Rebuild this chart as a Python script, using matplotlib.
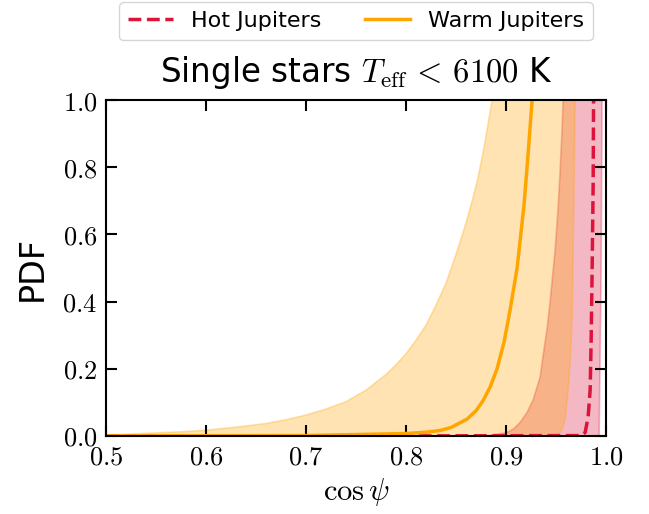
import numpy as np
import matplotlib
matplotlib.use("Agg")
import matplotlib.pyplot as plt
from matplotlib.ticker import FixedLocator

plt.rcParams["mathtext.fontset"] = "cm"
plt.rcParams["font.family"] = ["DejaVu Sans"]

# warm Jupiters: median PDF and band edges
warm_med_x = [0.50, 0.70, 0.80, 0.82, 0.834, 0.845, 0.861, 0.87, 0.877, 0.884, 0.891, 0.898,
              0.904, 0.911, 0.918, 0.922, 0.926, 0.928]
warm_med_y = [0.0, 0.001, 0.007, 0.011, 0.016, 0.025, 0.05, 0.075, 0.105, 0.145, 0.20, 0.28,
              0.375, 0.50, 0.69, 0.84, 1.0, 1.06]
warm_hi_x = [0.50, 0.52, 0.55, 0.58, 0.60, 0.63, 0.66, 0.68, 0.70, 0.72, 0.74, 0.76, 0.78,
             0.79, 0.80, 0.81, 0.82, 0.83, 0.84, 0.851, 0.86, 0.867, 0.872, 0.878, 0.882,
             0.886, 0.89]
warm_hi_y = [0.003, 0.005, 0.009, 0.013, 0.017, 0.026, 0.037, 0.048, 0.062, 0.08, 0.102,
             0.136, 0.183, 0.212, 0.245, 0.285, 0.33, 0.39, 0.455, 0.55, 0.635, 0.71, 0.77,
             0.86, 0.93, 1.0, 1.06]
warm_lo_x = [0.50, 0.90, 0.945, 0.952, 0.956, 0.959, 0.962, 0.964, 0.966, 0.967, 0.968, 0.969, 0.970]
warm_lo_y = [0.0, 0.0, 0.0, 0.003, 0.02, 0.048, 0.137, 0.22, 0.35, 0.55, 0.75, 1.0, 1.06]

# hot Jupiters
hot_med_x = [0.50, 0.83, 0.975, 0.979, 0.982, 0.984, 0.985, 0.986, 0.987, 0.9875]
hot_med_y = [0.0, 0.0, 0.001, 0.01, 0.057, 0.137, 0.286, 0.50, 0.75, 1.06]
hot_hi_x = [0.50, 0.88, 0.901, 0.908, 0.914, 0.921, 0.927, 0.934, 0.937, 0.941, 0.944,
            0.949, 0.952, 0.954, 0.956, 0.957, 0.958]
hot_hi_y = [0.0, 0.0, 0.01, 0.022, 0.04, 0.07, 0.107, 0.175, 0.24, 0.32, 0.40,
            0.554, 0.68, 0.79, 0.917, 1.0, 1.06]
hot_lo_x = [0.50, 0.993, 0.995, 0.996]
hot_lo_y = [0.0, 0.0, 0.5, 1.06]

xticks = [0.5, 0.6, 0.7, 0.8, 0.9, 1.0]
yticks = [0.0, 0.2, 0.4, 0.6, 0.8, 1.0]

hot_c = "crimson"
warm_c = "orange"

fig = plt.figure(figsize=(6.49, 5.14), dpi=100)
ax = fig.add_axes([0.163, 0.152, 0.771, 0.653])

# bands
ax.fill(np.r_[hot_hi_x, hot_lo_x[::-1]], np.r_[hot_hi_y, hot_lo_y[::-1]],
        color=hot_c, alpha=0.3, lw=1.2)
ax.fill(np.r_[warm_hi_x, warm_lo_x[::-1]], np.r_[warm_hi_y, warm_lo_y[::-1]],
        color=warm_c, alpha=0.3, lw=1.2)

ax.plot(hot_med_x, hot_med_y, ls="--", color=hot_c, lw=2.5, label="Hot Jupiters")
ax.plot(warm_med_x, warm_med_y, ls="-", color=warm_c, lw=2.5, label="Warm Jupiters")

ax.set_xlim(0.5, 1.0)
ax.set_ylim(0.0, 1.0)
ax.xaxis.set_major_locator(FixedLocator(xticks))
ax.yaxis.set_major_locator(FixedLocator(yticks))
ax.set_xticklabels([f"${v:.1f}$" for v in xticks])
ax.set_yticklabels([f"${v:.1f}$" for v in yticks])
ax.tick_params(direction="in", top=True, right=True, length=8, width=1.5,
               labelsize=19, pad=6)
for s in ax.spines.values():
    s.set_linewidth(1.5)

ax.set_xlabel(r"$\cos\psi$", fontsize=22)
ax.set_ylabel("PDF", fontsize=24, labelpad=10)
ax.set_title(r"Single stars $T_{\rm eff}\,<\,6100$ K", fontsize=23.5, pad=13)

ax.legend(loc="upper center", bbox_to_anchor=(0.5, 1.325), ncol=2,
          fontsize=16, frameon=True, columnspacing=2.0)

fig.savefig("out.png", dpi=100)
